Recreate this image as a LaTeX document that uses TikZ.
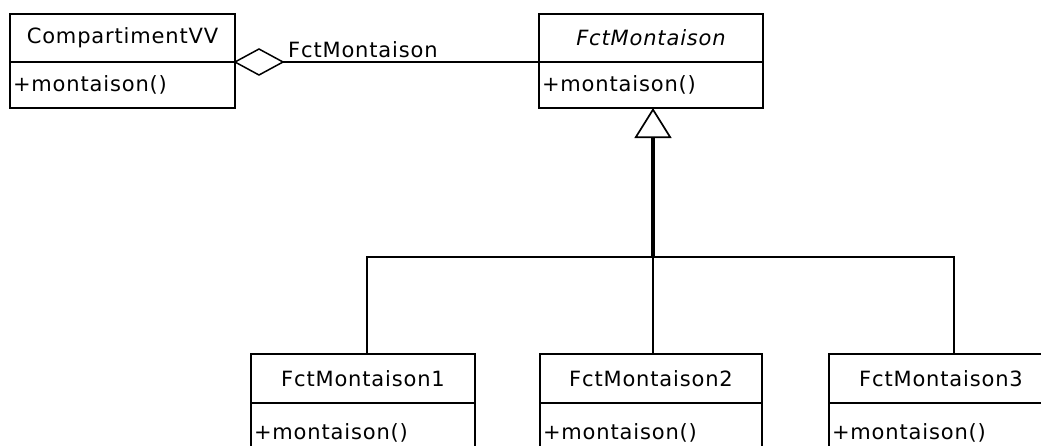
\documentclass[tikz,border=0pt]{standalone}
\usepackage{fontspec}
\setmainfont{DejaVu Sans}[LetterSpace=4]
\usetikzlibrary{arrows.meta,shapes.geometric}
\begin{document}
\begin{tikzpicture}[x=1pt,y=-1pt,
  hdr/.style={draw,line width=1.8pt,outer sep=0pt,minimum width=224pt,minimum height=48pt,inner sep=0pt,
    font=\fontsize{21}{24}\selectfont},
  body/.style={draw,line width=1.8pt,outer sep=0pt,text width=218pt,minimum height=#1,inner xsep=3pt,inner ysep=0pt,
    align=left,anchor=north,font=\fontsize{21}{24}\selectfont},
  conn/.style={line width=1.6pt},
  gen/.style={line width=3.5pt,-{Triangle[open,length=30pt,width=37pt,line width=1.7pt]}},
  agg/.style={diamond,draw,line width=1.5pt,outer sep=0pt,minimum width=48pt,minimum height=26pt,inner sep=0pt,anchor=west},
  lbl/.style={font=\fontsize{21}{24}\selectfont,inner sep=0pt}]
\clip (0,0) rectangle (1041,445);
\fill[white] (0,0) rectangle (1041,445);

% CompartimentVV
\node[hdr,minimum width=225pt] (ch) at (122.5,38) {CompartimentVV};
\node[body=46pt,text width=219pt] (cb) at (ch.south) {+montaison()};

% FctMontaison (abstract)
\node[hdr] (fh) at (651,38) {\itshape FctMontaison};
\node[body=46pt] (fb) at (fh.south) {+montaison()};

% Aggregation
\node[agg] (dia) at (ch.south east) {};
\draw[conn] (dia.east) -- (fh.south west);
\node[lbl,anchor=base west] (role) at (288,57) {FctMontaison};

% Subclasses
\node[hdr,minimum height=49pt] (b1h) at (363,378.5) {FctMontaison1};
\node[body=60pt] (b1b) at (b1h.south) {+montaison()};
\node[hdr,minimum height=49pt,minimum width=222pt] (b2h) at (651,378.5) {FctMontaison2};
\node[body=60pt,text width=216pt] (b2b) at (b2h.south) {+montaison()};
\node[hdr,minimum height=49pt] (b3h) at (941,378.5) {FctMontaison3};
\node[body=60pt] (b3b) at (b3h.south) {+montaison()};

% Generalization
\coordinate (j) at (653,257);
\draw[gen] (j) -- (j |- fb.south);
\draw[conn] ([xshift=4pt]b1h.north) |- (j) -| ([xshift=13pt]b3h.north);
\draw[conn] ([xshift=2pt]b2h.north) -- (j);
\end{tikzpicture}
\end{document}
